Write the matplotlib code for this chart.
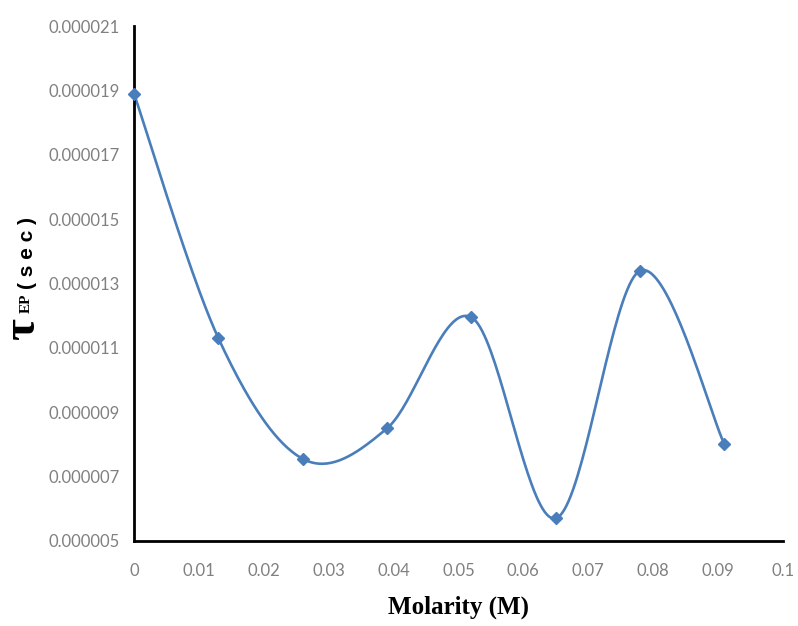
import numpy as np
import matplotlib
matplotlib.use("Agg")
import matplotlib.pyplot as plt

# data
molarity = [0.0, 0.013, 0.026, 0.039, 0.052, 0.065, 0.078, 0.091]
tau_ep = [18.9e-6, 11.3e-6, 7.55e-6, 8.5e-6, 11.95e-6, 5.7e-6, 13.4e-6, 8.0e-6]

x_ticks = [0, 0.01, 0.02, 0.03, 0.04, 0.05, 0.06, 0.07, 0.08, 0.09, 0.1]
x_tick_labels = ["0", "0.01", "0.02", "0.03", "0.04", "0.05", "0.06", "0.07", "0.08", "0.09", "0.1"]
y_ticks = [5e-6, 7e-6, 9e-6, 11e-6, 13e-6, 15e-6, 17e-6, 19e-6, 21e-6]
y_tick_labels = ["0.000005", "0.000007", "0.000009", "0.000011", "0.000013",
                 "0.000015", "0.000017", "0.000019", "0.000021"]

line_color = "#4a7ebb"


def smooth_curve(xs, ys, steps=40):
    # Excel-style smoothed line: Catmull-Rom segments as cubic Bezier
    p = np.column_stack([xs, ys]).astype(float)
    p_ext = np.vstack([p[0], p, p[-1]])
    out = []
    t = np.linspace(0, 1, steps)[:, None]
    for i in range(len(p) - 1):
        p0, p1, p2, p3 = p_ext[i], p_ext[i + 1], p_ext[i + 2], p_ext[i + 3]
        c1 = p1 + (p2 - p0) / 6
        c2 = p2 - (p3 - p1) / 6
        seg = ((1 - t) ** 3) * p1 + 3 * ((1 - t) ** 2) * t * c1 + 3 * (1 - t) * t ** 2 * c2 + t ** 3 * p2
        out.append(seg)
    curve = np.vstack(out)
    return curve[:, 0], curve[:, 1]


fig = plt.figure(figsize=(7.98, 6.26), dpi=100)
ax = fig.add_axes([0.168, 0.136, 0.813, 0.822])

cx, cy = smooth_curve(molarity, tau_ep)
ax.plot(cx, cy, color=line_color, linewidth=1.9, clip_on=False)
ax.plot(molarity, tau_ep, linestyle="none", marker="D", markersize=6.5,
        color=line_color, clip_on=False, zorder=3)

ax.set_xlim(0, 0.1)
ax.set_ylim(5e-6, 21e-6)
ax.set_xticks(x_ticks)
ax.set_xticklabels(x_tick_labels)
ax.set_yticks(y_ticks)
ax.set_yticklabels(y_tick_labels)

for lab in ax.get_xticklabels() + ax.get_yticklabels():
    lab.set_fontfamily(["Lato", "DejaVu Sans"])
    lab.set_fontsize(12)
    lab.set_color("#808080")

ax.tick_params(axis="both", length=0)
ax.tick_params(axis="x", pad=16)
ax.tick_params(axis="y", pad=10)

for side in ["top", "right"]:
    ax.spines[side].set_visible(False)
for side in ["left", "bottom"]:
    ax.spines[side].set_linewidth(2)
    ax.spines[side].set_color("black")

ax.set_xlabel("Molarity (M)", fontfamily="Liberation Serif", fontweight="bold",
              fontsize=18, labelpad=12)

# y label: big tau, small EP, then (sec)
fig.text(0.029, 0.475, "\u03c4", rotation=90, ha="center", va="center",
         fontfamily="Liberation Serif", fontweight="bold", fontsize=34)
fig.text(0.033, 0.515, "EP", rotation=90, ha="center", va="center",
         fontfamily="Liberation Serif", fontweight="bold", fontsize=11)
fig.text(0.034, 0.596, "( s e c )", rotation=90, ha="center", va="center",
         fontfamily="Liberation Sans", fontweight="bold", fontsize=15)

fig.savefig("out.png", dpi=100)
